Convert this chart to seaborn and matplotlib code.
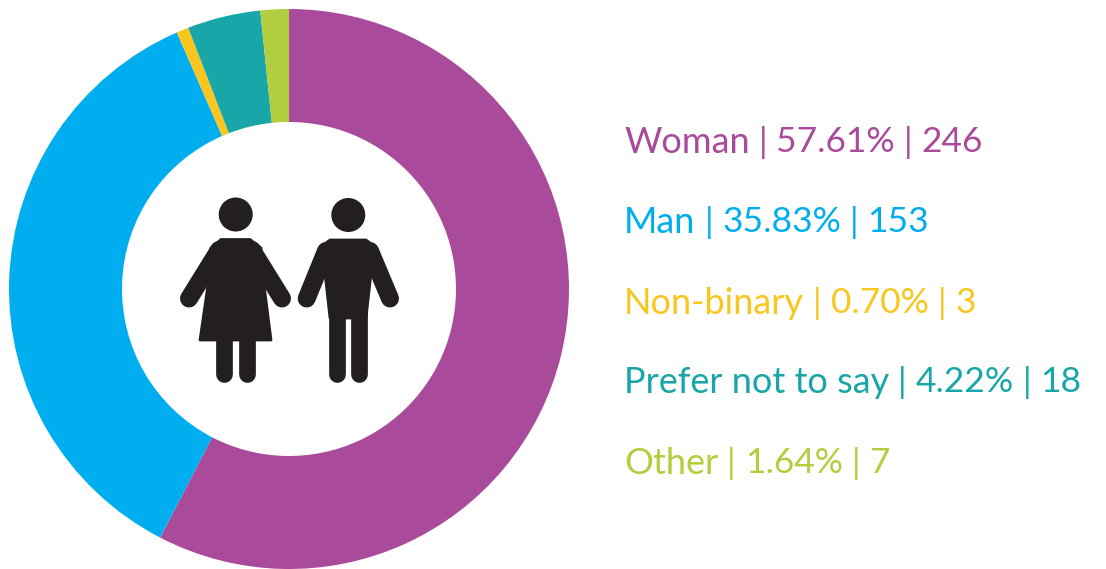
import matplotlib
matplotlib.use("Agg")
import matplotlib.pyplot as plt
from matplotlib.patches import Circle, Polygon
import seaborn as sns

categories = ["Woman", "Man", "Non-binary", "Prefer not to say", "Other"]
percent = [57.61, 35.83, 0.70, 4.22, 1.64]
counts = [246, 153, 3, 18, 7]
colors = ["#A94A9A", "#00AEEF", "#F8C61E", "#18A6A8", "#B2CE3E"]

sns.set_theme(style="white")
plt.rcParams["font.family"] = ["Lato", "DejaVu Sans"]

W, H = 1106, 569
fig = plt.figure(figsize=(W / 100, H / 100), dpi=100, facecolor="white")

# donut
R = 280
cx, cy = 289, 289
pax = fig.add_axes([(cx - R) / W, 1 - (cy + R) / H, 2 * R / W, 2 * R / H])
pax.pie(percent, colors=sns.color_palette(colors), startangle=90, counterclock=False,
        radius=1, wedgeprops=dict(width=1 - 167 / 280, linewidth=0))
pax.set_xlim(-1, 1)
pax.set_ylim(-1, 1)
pax.set_aspect("equal")
pax.axis("off")

ink = "#231F20"
iax = fig.add_axes([0, 0, 1, 1])
iax.set_xlim(0, W)
iax.set_ylim(H, 0)
iax.axis("off")
iax.patch.set_alpha(0)


def limb(x0, y0, x1, y1, w):
    iax.plot([x0, x1], [y0, y1], color=ink, lw=w * 0.72, solid_capstyle="round")


def body(points):
    iax.add_patch(Polygon(points, closed=True, facecolor=ink, edgecolor=ink, lw=2, joinstyle="round"))


# woman
iax.add_patch(Circle((235.7, 214.5), 17, color=ink, lw=0))
body([(221, 239.5), (250, 239.5), (261, 248), (264, 285), (271, 340), (200, 340), (208, 285), (211, 248)])
limb(219, 250, 189, 298.5, 18)
limb(252, 250, 282, 298.5, 18)
limb(224.3, 335, 224.3, 374, 16.7)
limb(247.3, 335, 247.3, 374, 16.7)

# man
iax.add_patch(Circle((348.3, 215), 17, color=ink, lw=0))
body([(330, 240), (366, 240), (374, 246), (366, 318), (330, 318), (322, 246)])
limb(326, 251, 306.7, 298.5, 18)
limb(370, 251, 390, 298.5, 18)
limb(336.7, 310, 336.7, 374, 16.7)
limb(359.2, 310, 359.2, 374, 16.7)

# legend text: segments set tightly, with thin separators
ys = [142, 222, 303, 382, 463]
renderer = fig.canvas.get_renderer()
for cat, p, n, c, y in zip(categories, percent, counts, colors, ys):
    x = 624
    parts = [(cat, 26, "normal"), ("|", 25, "normal"), (f"{p:.2f}%", 25.5, "normal"),
             ("|", 25, "normal"), (f"{n}", 25.5, "normal")]
    for part, size, weight in parts:
        t = iax.text(x, y, part, color=c, fontsize=size, fontweight=weight, va="center", ha="left")
        x += t.get_window_extent(renderer).width + 9

fig.savefig("out.png", dpi=100, facecolor="white")
